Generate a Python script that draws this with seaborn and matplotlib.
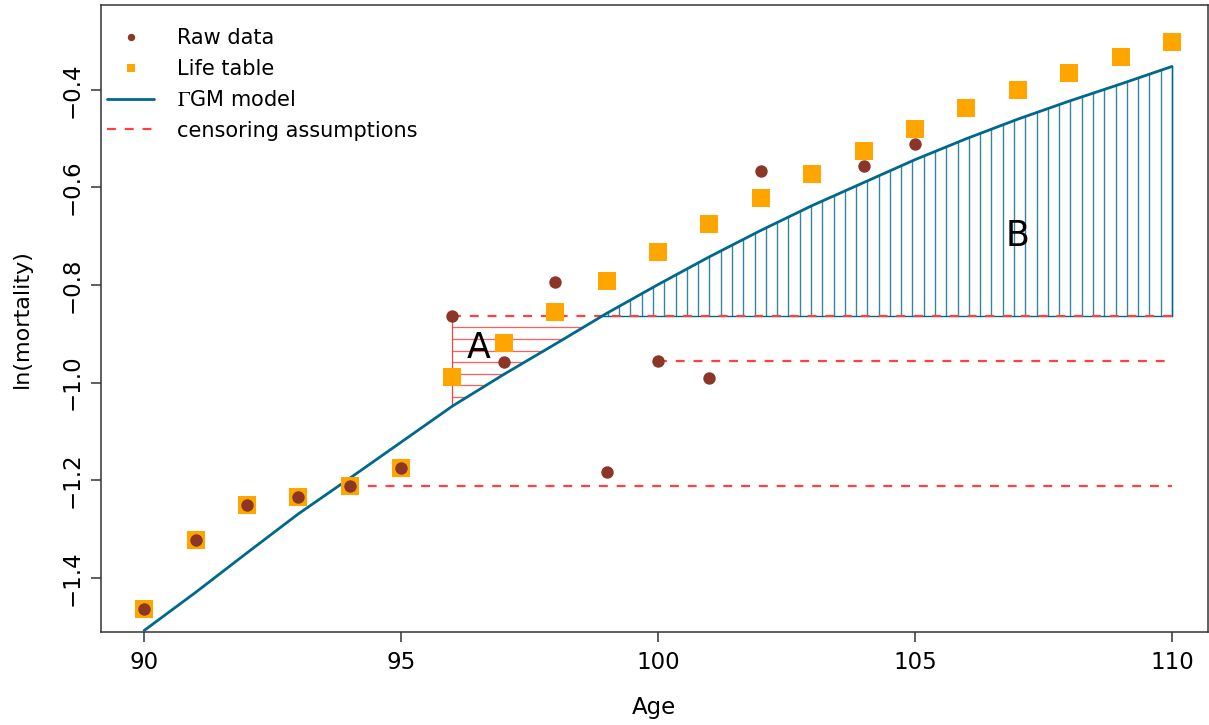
import numpy as np
import pandas as pd
import seaborn as sns
import matplotlib.pyplot as plt
from matplotlib.lines import Line2D

# ages and log-mortality values
ages = list(range(90, 111))
raw_data = [-1.463, -1.322, -1.250, -1.234, -1.211, -1.175, -0.863, -0.957,
            -0.793, -1.183, -0.955, -0.990, -0.566, np.nan, -0.556, -0.511,
            np.nan, np.nan, np.nan, np.nan, np.nan]
life_table = [-1.463, -1.322, -1.250, -1.234, -1.211, -1.175, -0.988, -0.918,
              -0.855, -0.791, -0.732, -0.675, -0.621, -0.572, -0.525, -0.480,
              -0.437, -0.400, -0.365, -0.332, -0.302]
gm_model = [-1.508, -1.430, -1.349, -1.269, -1.196, -1.122, -1.048, -0.983,
            -0.921, -0.858, -0.799, -0.742, -0.688, -0.637, -0.590, -0.543,
            -0.500, -0.460, -0.423, -0.388, -0.352]

# censoring assumptions: start age, level
cens_start = [96, 100, 94]
cens_level = [-0.863, -0.955, -1.211]

df = pd.DataFrame({'age': ages, 'raw': raw_data, 'life': life_table, 'model': gm_model})

sns.set_style('ticks')
plt.rcParams['font.family'] = ['DejaVu Sans']
plt.rcParams['mathtext.fontset'] = 'stix'
plt.rcParams['text.color'] = 'black'
plt.rcParams['axes.labelcolor'] = 'black'
plt.rcParams['xtick.labelcolor'] = 'black'
plt.rcParams['ytick.labelcolor'] = 'black'

col_model = '#00688B'
col_raw = '#8B3626'
col_life = '#FFA500'
col_cens = '#FF4040'

fig = plt.figure(figsize=(12.09, 7.25), dpi=100)
ax = fig.add_axes([0.0835, 0.1283, 0.9156, 0.8648])

# shaded areas A and B
lvl = cens_level[0]
cross = np.interp(lvl, df['model'], df['age'])
# A: horizontal hatch between x=96 and model line
ys = np.arange(lvl, np.interp(96, df['age'], df['model']), -0.0238)
for y in ys[1:]:
    ax.plot([96, np.interp(y, df['model'], df['age'])], [y, y], color=col_cens, lw=0.9, alpha=0.85, zorder=1)
ax.plot([96, 96], [np.interp(96, df['age'], df['model']), lvl], color=col_cens, lw=0.9, zorder=1)
# B: vertical hatch between level and model line
xs = np.arange(110, cross, -0.2195)
for x in xs:
    ax.plot([x, x], [lvl, np.interp(x, df['age'], df['model'])], color=col_model, lw=1.0, alpha=0.8, zorder=1)
ax.plot([110, 110], [lvl, gm_model[-1]], color=col_model, lw=1.0, zorder=1)
ax.plot([cross, 110], [lvl, lvl], color=col_model, lw=1.0, zorder=1)

for s, l in zip(cens_start, cens_level):
    ax.plot([s, 110], [l, l], color=col_cens, lw=1.6, dashes=(4, 4), zorder=2)

sns.lineplot(data=df, x='age', y='model', color=col_model, lw=2.0, ax=ax, zorder=3)
sns.scatterplot(data=df, x='age', y='life', marker='s', s=150, color=col_life, linewidth=0, ax=ax, zorder=4)
sns.scatterplot(data=df, x='age', y='raw', marker='o', s=80, color=col_raw, linewidth=0, ax=ax, zorder=5)

ax.text(96.5, -0.93, 'A', fontsize=25, ha='center', va='center')
ax.text(107, -0.70, 'B', fontsize=25, ha='center', va='center')

ax.set_xlim(89.16, 110.70)
ax.set_ylim(-1.511, -0.226)
ax.set_xticks([90, 95, 100, 105, 110])
ax.set_yticks([-1.4, -1.2, -1.0, -0.8, -0.6, -0.4])
ax.set_yticklabels(['\u22121.4', '\u22121.2', '\u22121.0', '\u22120.8', '\u22120.6', '\u22120.4'],
                   rotation=90, va='center')
for t in ax.get_xticklabels() + ax.get_yticklabels():
    t.set_fontsize(16.5)
ax.tick_params(length=7.5, width=1.1, color='#333333')
ax.tick_params(axis='x', pad=6)
ax.tick_params(axis='y', pad=5)
for sp in ax.spines.values():
    sp.set_linewidth(1.1)
    sp.set_color('#333333')
ax.set_xlabel('Age', fontsize=16.5, va='center')
ax.set_ylabel('ln(mortality)', fontsize=16, va='center')
ax.xaxis.set_label_coords(0.5, -0.1212)
ax.yaxis.set_label_coords(-0.0714, 0.5)

handles = [
    Line2D([], [], ls='none', marker='o', ms=5.3, color=col_raw, mew=0),
    Line2D([], [], ls='none', marker='s', ms=5.3, color=col_life, mew=0),
    Line2D([], [], color=col_model, lw=2.0),
    Line2D([], [], color=col_cens, lw=1.6, dashes=(4, 4)),
]
labels = ['Raw data', 'Life table', r'$\Gamma$GM model', 'censoring assumptions']
ax.legend(handles, labels, loc='upper left', bbox_to_anchor=(0.002, 0.9696),
          frameon=False, fontsize=15, handlelength=2.26, handletextpad=1.1,
          labelspacing=0.52, borderaxespad=0, borderpad=0.2)

plt.savefig('out.png', dpi=100)
